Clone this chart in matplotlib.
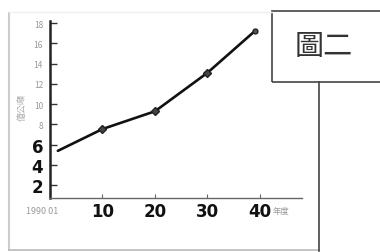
import matplotlib
matplotlib.use("Agg")
import matplotlib.pyplot as plt
from matplotlib.lines import Line2D
from matplotlib.patches import Rectangle

plt.rcParams['font.family'] = ['Noto Sans CJK TC', 'DejaVu Sans']

# data
years = [1.5, 10, 20, 30, 39]
values = [5.4, 7.55, 9.3, 13.1, 17.2]
marker_years = [10, 20, 30]
marker_values = [7.55, 9.3, 13.1]
y_ticks = [2, 4, 6, 8, 10, 12, 14, 16, 18]
y_labels = ['2', '4', '6', '8', '10', '12', '14', '16', '18']
x_ticks = [10, 20, 30, 40]
x_labels = ['10', '20', '30', '40']
first_x_label = '1990 01'
x_unit = '年度'
y_unit = '億公噸'
title_text = '圖二'

W, H = 380, 253
fig = plt.figure(figsize=(W / 100, H / 100), dpi=100)
fig.patch.set_facecolor('white')

ax = fig.add_axes([50 / W, (H - 199) / H, (302 - 50) / W, (199 - 22) / H])
ax.set_xlim(0, 48)
ax.set_ylim(0.75, 18.2)
for s in ['top', 'right']:
    ax.spines[s].set_visible(False)
ax.spines['left'].set_linewidth(1.8)
ax.spines['left'].set_color('#222222')
ax.spines['bottom'].set_linewidth(1.0)
ax.spines['bottom'].set_color('#666666')

ax.plot(years, values, color='#111111', lw=1.9, solid_capstyle='round')
ax.plot(marker_years, marker_values, ls='none', marker='D', ms=4.5,
        color='#444444', mec='#222222')
ax.plot([years[-1]], [values[-1]], ls='none', marker='o', ms=3.5,
        color='#555555', mec='#222222')

ax.set_yticks(y_ticks)
ax.set_yticklabels(y_labels)
ax.tick_params(axis='y', direction='in', length=5, width=1, color='#333333', pad=5)
for lab, v in zip(ax.get_yticklabels(), y_ticks):
    if v <= 6:
        lab.set_fontsize(12)
        lab.set_fontweight('bold')
        lab.set_color('#111111')
        lab.set_family(['DejaVu Sans'])
    else:
        lab.set_fontsize(6)
        lab.set_color('#999999')

ax.set_xticks(x_ticks)
ax.set_xticklabels(x_labels, fontsize=12, fontweight='bold', color='#111111',
                   family=['DejaVu Sans'])
ax.tick_params(axis='x', direction='in', length=3, width=0.8, color='#666666', pad=3)

ax.text(-1.5, -0.045, first_x_label, transform=ax.get_xaxis_transform(),
        ha='center', va='top', fontsize=6.5, color='#999999')
ax.text(44, -0.045, x_unit, transform=ax.get_xaxis_transform(),
        ha='center', va='top', fontsize=6, color='#999999')
fig.text(22 / W, 1 - 108 / H, y_unit, rotation=90, ha='center', va='center',
         fontsize=6.5, color='#aaaaaa')

# frame lines
fig.add_artist(Line2D([9 / W, 9 / W], [1 - 14 / H, 1 - 251 / H], color='#cccccc', lw=1.5))
fig.add_artist(Line2D([9 / W, 319 / W], [1 - 251 / H, 1 - 251 / H], color='#bbbbbb', lw=1.2))
fig.add_artist(Line2D([9 / W, 272 / W], [1 - 13 / H, 1 - 13 / H], color='#eeeeee', lw=1.0))
fig.add_artist(Line2D([319 / W, 319 / W], [1 - 83 / H, 1 - 252 / H], color='#444444', lw=1.2))

# box with title
fig.add_artist(Rectangle((272 / W, 1 - 83 / H), (W - 272) / W + 0.01, 71 / H,
                         transform=fig.transFigure, fill=False, ec='#444444', lw=1.2))
fig.text(324 / W, 1 - 47 / H, title_text, ha='center', va='center',
         fontsize=21, color='#333333', fontweight='light')

fig.savefig('out.png', dpi=100)
